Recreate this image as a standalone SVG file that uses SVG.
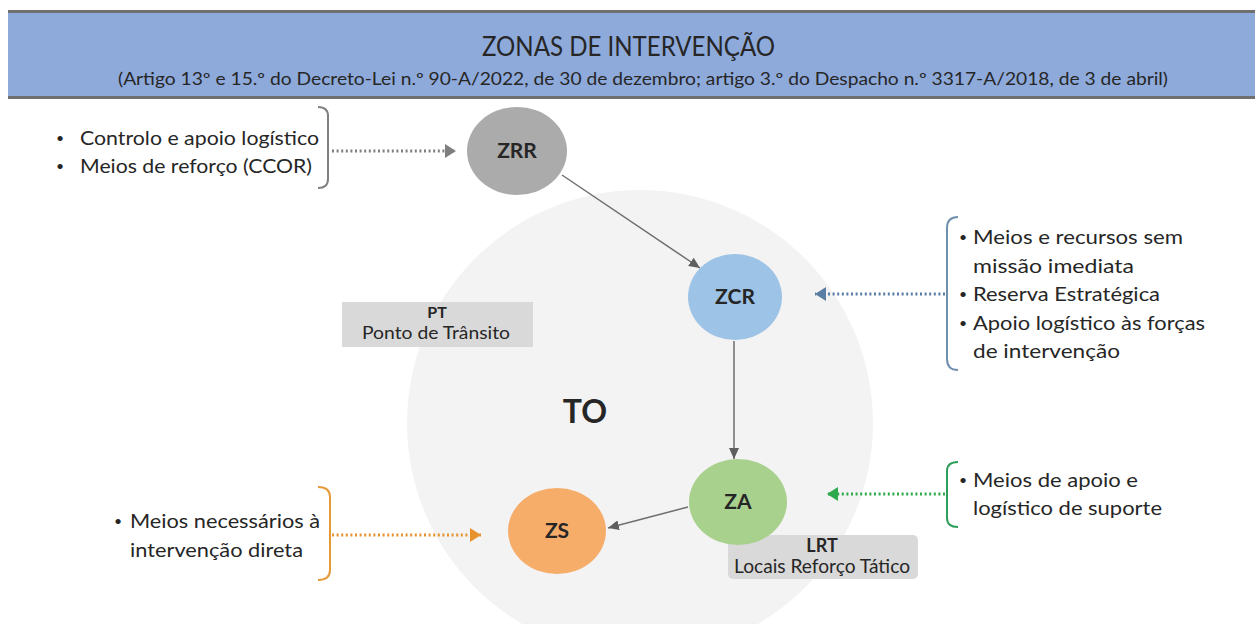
<svg xmlns="http://www.w3.org/2000/svg" width="1255" height="624" viewBox="0 0 1255 624">
<style>
.t{font-family:Lato,"Open Sans","Liberation Sans",sans-serif;fill:#262626}
.li{font-size:20px}
.lbl{font-size:21px;font-weight:bold;text-anchor:middle}
.bul{font-size:14px}
.solid{stroke:#6e6e6e;stroke-width:1.5;fill:none}
.dot{stroke-width:3;stroke-dasharray:2 2.6;fill:none}
.br{stroke-width:2;fill:none}
</style>
<defs>
<marker id="aS" markerUnits="userSpaceOnUse" markerWidth="12" markerHeight="10" refX="11" refY="5" orient="auto"><path d="M0,0 L11,5 L0,10 z" fill="#5f5f5f"/></marker>
<marker id="aG" markerUnits="userSpaceOnUse" markerWidth="12" markerHeight="14" refX="11" refY="7" orient="auto"><path d="M0,0 L11,7 L0,14 z" fill="#7f7f7f"/></marker>
<marker id="aB" markerUnits="userSpaceOnUse" markerWidth="12" markerHeight="14" refX="11" refY="7" orient="auto"><path d="M0,0 L11,7 L0,14 z" fill="#5a7ea3"/></marker>
<marker id="aGr" markerUnits="userSpaceOnUse" markerWidth="12" markerHeight="14" refX="11" refY="7" orient="auto"><path d="M0,0 L11,7 L0,14 z" fill="#2eaa4c"/></marker>
<marker id="aO" markerUnits="userSpaceOnUse" markerWidth="12" markerHeight="14" refX="11" refY="7" orient="auto"><path d="M0,0 L11,7 L0,14 z" fill="#e8912f"/></marker>
</defs>
<rect x="0" y="0" width="1255" height="624" fill="#ffffff"/>
<g id="header">
<rect x="8" y="11" width="1247" height="87" fill="#8eaadb"/>
<rect x="8" y="10" width="1247" height="3" fill="#6f6f6f"/>
<rect x="8" y="96" width="1247" height="3" fill="#6f6f6f"/>
<text class="t" x="482" y="56" font-size="26" textLength="293" lengthAdjust="spacingAndGlyphs" fill="#111">ZONAS DE INTERVENÇÃO</text>
<text class="t" x="118" y="85" font-size="17" textLength="1050" lengthAdjust="spacingAndGlyphs" fill="#111">(Artigo 13º e 15.º do Decreto-Lei n.º 90-A/2022, de 30 de dezembro; artigo 3.º do Despacho n.º 3317-A/2018, de 3 de abril)</text>
</g>
<g id="TO">
<circle cx="640" cy="423" r="233" fill="#f3f3f3"/>
<text class="t" x="585" y="423" font-size="32" font-weight="bold" text-anchor="middle" fill="#1a1a1a">TO</text>
</g>
<g id="PT">
<rect x="342" y="302" width="191" height="45" fill="#d9d9d9"/>
<text class="t" x="437" y="318" font-size="16" font-weight="bold" text-anchor="middle">PT</text>
<text class="t" x="362" y="339" font-size="17" textLength="148" lengthAdjust="spacingAndGlyphs">Ponto de Trânsito</text>
</g>
<g id="LRT">
<rect x="728" y="535" width="190" height="44" rx="5" fill="#d9d9d9"/>
<text class="t" x="822" y="552" font-size="18" font-weight="bold" text-anchor="middle">LRT</text>
<text class="t" x="734" y="573" font-size="19" textLength="176" lengthAdjust="spacingAndGlyphs">Locais Reforço Tático</text>
</g>
<g id="connectors">
<line class="solid" x1="562" y1="175" x2="700" y2="268" marker-end="url(#aS)"/>
<line class="solid" x1="734" y1="341" x2="734" y2="459" marker-end="url(#aS)"/>
<line class="solid" x1="688" y1="507" x2="608" y2="528" marker-end="url(#aS)"/>
<line class="dot" stroke="#7f7f7f" x1="332" y1="151" x2="456" y2="151" marker-end="url(#aG)"/>
<line class="dot" stroke="#5a7ea3" x1="945" y1="294" x2="815" y2="294" marker-end="url(#aB)"/>
<line class="dot" stroke="#2eaa4c" x1="945" y1="494" x2="827" y2="494" marker-end="url(#aGr)"/>
<line class="dot" stroke="#e8912f" x1="332" y1="535" x2="481" y2="535" marker-end="url(#aO)"/>
</g>
<g id="ZRR">
<ellipse cx="517" cy="151" rx="50" ry="44" fill="#ababab"/>
<text class="t lbl" x="517" y="158">ZRR</text>
</g>
<g id="ZCR">
<ellipse cx="735" cy="297" rx="47" ry="43" fill="#9dc3e6"/>
<text class="t lbl" x="735" y="304">ZCR</text>
</g>
<g id="ZA">
<ellipse cx="738" cy="502" rx="49" ry="43" fill="#a9d18e"/>
<text class="t lbl" x="738" y="509">ZA</text>
</g>
<g id="ZS">
<ellipse cx="557" cy="531" rx="49" ry="43" fill="#f6ad6a"/>
<text class="t lbl" x="557" y="538" fill="#3a1a08">ZS</text>
</g>
<g id="list-ZRR">
<path class="br" stroke="#808080" d="M318,107 Q328,107 328,116 L328,179 Q328,188 318,188"/>
<text class="t bul" x="56" y="143" fill="#7f7f7f">•</text>
<text class="t bul" x="56" y="171" fill="#7f7f7f">•</text>
<text class="t li" x="80" y="145" textLength="239" lengthAdjust="spacingAndGlyphs">Controlo e apoio logístico</text>
<text class="t li" x="80" y="173" textLength="232" lengthAdjust="spacingAndGlyphs">Meios de reforço (CCOR)</text>
</g>
<g id="list-ZCR">
<path class="br" stroke="#7190b0" d="M958,217 Q947,217 947,228 L947,359 Q947,370 958,370"/>
<text class="t bul" x="959" y="242" fill="#4f6f94">•</text>
<text class="t bul" x="959" y="299" fill="#4f6f94">•</text>
<text class="t bul" x="959" y="328" fill="#4f6f94">•</text>
<text class="t li" x="973" y="244" textLength="210" lengthAdjust="spacingAndGlyphs">Meios e recursos sem</text>
<text class="t li" x="973" y="273" textLength="161" lengthAdjust="spacingAndGlyphs">missão imediata</text>
<text class="t li" x="973" y="301" textLength="187" lengthAdjust="spacingAndGlyphs">Reserva Estratégica</text>
<text class="t li" x="973" y="330" textLength="232" lengthAdjust="spacingAndGlyphs">Apoio logístico às forças</text>
<text class="t li" x="973" y="358" textLength="147" lengthAdjust="spacingAndGlyphs">de intervenção</text>
</g>
<g id="list-ZA">
<path class="br" stroke="#2e9e5b" d="M958,462 Q947,462 947,471 L947,518 Q947,527 958,527"/>
<text class="t bul" x="959" y="485" fill="#6a6a6a">•</text>
<text class="t li" x="973" y="487" textLength="165" lengthAdjust="spacingAndGlyphs">Meios de apoio e</text>
<text class="t li" x="973" y="515" textLength="189" lengthAdjust="spacingAndGlyphs">logístico de suporte</text>
</g>
<g id="list-ZS">
<path class="br" stroke="#e59a3a" d="M318,487 Q330,487 330,497 L330,570 Q330,580 318,580"/>
<text class="t bul" x="114" y="526" fill="#b0703a">•</text>
<text class="t li" x="130" y="528" textLength="190" lengthAdjust="spacingAndGlyphs">Meios necessários à</text>
<text class="t li" x="130" y="557" textLength="173" lengthAdjust="spacingAndGlyphs">intervenção direta</text>
</g>
</svg>
